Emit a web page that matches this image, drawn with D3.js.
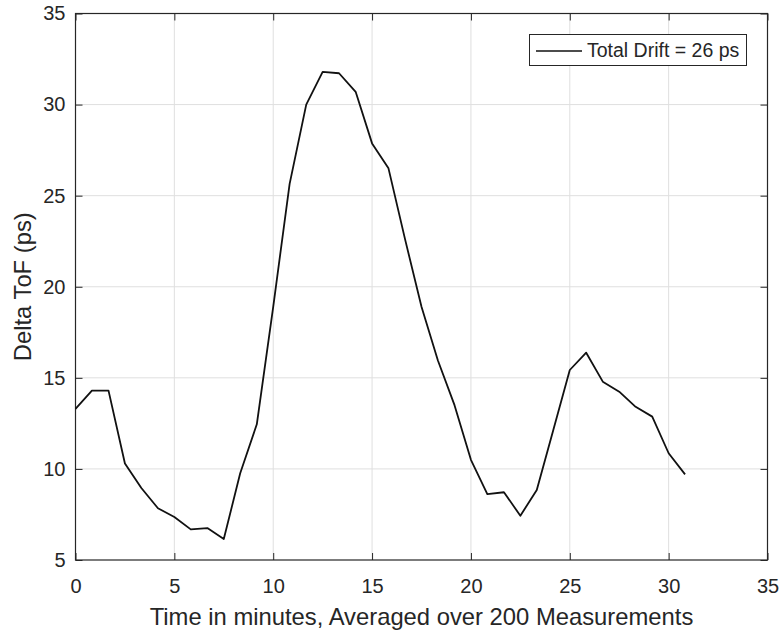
<!DOCTYPE html>
<html>
<head>
<meta charset="utf-8">
<script src="https://cdn.jsdelivr.net/npm/d3@7"></script>
<style>
  body { margin: 0; background: #fff; }
  svg { display: block; font-family: Arial, "Liberation Sans", sans-serif; }
</style>
</head>
<body>
<svg id="chart" width="781" height="630"></svg>
<script>
// time in minutes (one sample every 50 s)
const times = [0, 0.83, 1.67, 2.5, 3.33, 4.17, 5, 5.83, 6.67, 7.5, 8.33, 9.17, 10, 10.83,
  11.67, 12.5, 13.33, 14.17, 15, 15.83, 16.67, 17.5, 18.33, 19.17, 20, 20.83, 21.67, 22.5,
  23.33, 24.17, 25, 25.83, 26.67, 27.5, 28.33, 29.17, 30, 30.83];
// delta ToF in ps
const deltaTof = [13.3, 14.3, 14.3, 10.3, 8.95, 7.84, 7.36, 6.68, 6.75, 6.15, 9.76, 12.45, 18.9, 25.65,
  30.0, 31.8, 31.72, 30.7, 27.87, 26.5, 22.6, 18.9, 15.95, 13.5, 10.5, 8.62, 8.72, 7.43,
  8.84, 12.15, 15.43, 16.38, 14.79, 14.24, 13.41, 12.87, 10.86, 9.7];
const xTicks = [0, 5, 10, 15, 20, 25, 30, 35];
const yTicks = [5, 10, 15, 20, 25, 30, 35];
const legendLabel = 'Total Drift = 26 ps';

const svg = d3.select('#chart');
const plotL = 75.5, plotR = 767.5, plotT = 13.5, plotB = 560;
const axisColor = '#262626';

const x = d3.scaleLinear().domain([0, 35]).range([plotL, plotR]);
const y = d3.scaleLinear().domain([5, 35]).range([plotB, plotT]);

// grid
svg.append('g')
  .selectAll('line')
  .data(xTicks.slice(1, -1))
  .enter().append('line')
  .attr('x1', d => x(d)).attr('x2', d => x(d))
  .attr('y1', plotT).attr('y2', plotB)
  .attr('stroke', '#dfdfdf').attr('stroke-width', 1);

svg.append('g')
  .selectAll('line')
  .data(yTicks.slice(1, -1))
  .enter().append('line')
  .attr('x1', plotL).attr('x2', plotR)
  .attr('y1', d => y(d)).attr('y2', d => y(d))
  .attr('stroke', '#dfdfdf').attr('stroke-width', 1);

// axes, ticks pointing inwards (MATLAB style)
function styleAxis(g) {
  g.select('.domain').remove();
  g.selectAll('.tick line').attr('stroke', axisColor);
  g.selectAll('.tick text')
    .attr('fill', axisColor)
    .style('font-size', '20px')
    .style('font-family', 'Arial, "Liberation Sans", sans-serif');
}

svg.append('g')
  .attr('transform', `translate(0,${plotB})`)
  .call(d3.axisBottom(x).tickValues(xTicks).tickSize(-7).tickPadding(19))
  .call(styleAxis);

svg.append('g')
  .attr('transform', `translate(0,${plotT})`)
  .call(d3.axisTop(x).tickValues(xTicks).tickSize(-7).tickFormat(''))
  .call(styleAxis);

svg.append('g')
  .attr('transform', `translate(${plotL},0)`)
  .call(d3.axisLeft(y).tickValues(yTicks).tickSize(-7).tickPadding(10))
  .call(styleAxis);

svg.append('g')
  .attr('transform', `translate(${plotR},0)`)
  .call(d3.axisRight(y).tickValues(yTicks).tickSize(-7).tickFormat(''))
  .call(styleAxis);

// box
svg.append('rect')
  .attr('x', plotL).attr('y', plotT)
  .attr('width', plotR - plotL).attr('height', plotB - plotT)
  .attr('fill', 'none').attr('stroke', axisColor).attr('stroke-width', 1.2);

// data line
const line = d3.line()
  .x((d, i) => x(times[i]))
  .y(d => y(d));

svg.append('path')
  .datum(deltaTof)
  .attr('d', line)
  .attr('fill', 'none')
  .attr('stroke', '#111')
  .attr('stroke-width', 1.8)
  .attr('stroke-linejoin', 'round');

// axis labels
svg.append('text')
  .attr('x', (plotL + plotR) / 2).attr('y', 625)
  .attr('text-anchor', 'middle')
  .attr('fill', axisColor)
  .style('font-size', '23.8px')
  .text('Time in minutes, Averaged over 200 Measurements');

svg.append('text')
  .attr('transform', `translate(31,${(plotT + plotB) / 2}) rotate(-90)`)
  .attr('text-anchor', 'middle')
  .attr('fill', axisColor)
  .style('font-size', '23.8px')
  .text('Delta ToF (ps)');

// legend
const legend = svg.append('g');
legend.append('rect')
  .attr('x', 529.5).attr('y', 34.5)
  .attr('width', 217).attr('height', 31)
  .attr('fill', '#fff').attr('stroke', axisColor).attr('stroke-width', 1);
legend.append('line')
  .attr('x1', 536).attr('x2', 582)
  .attr('y1', 51).attr('y2', 51)
  .attr('stroke', '#111').attr('stroke-width', 1.5);
legend.append('text')
  .attr('x', 587).attr('y', 57)
  .attr('fill', axisColor)
  .style('font-size', '19.5px')
  .text(legendLabel);
</script>
</body>
</html>
